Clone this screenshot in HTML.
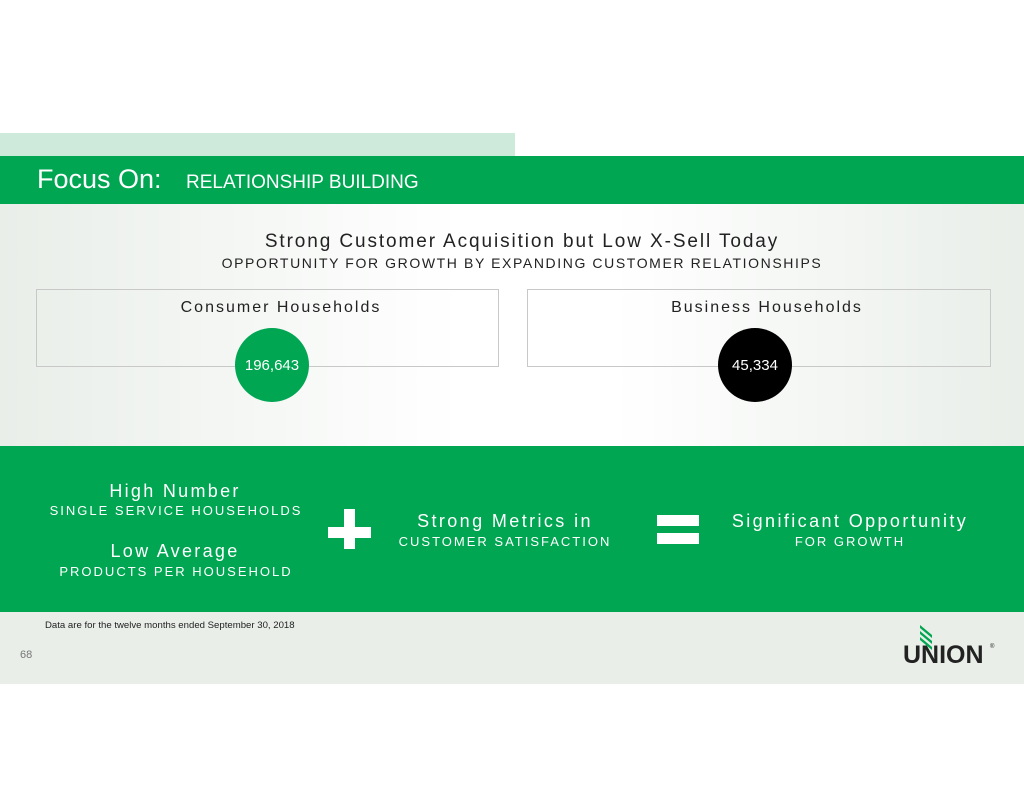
<!DOCTYPE html>
<html><head><style>
body{margin:0;width:1024px;height:791px;background:#fff;position:relative;overflow:hidden;font-family:"Liberation Sans",sans-serif}
div{position:absolute}
.t{white-space:nowrap;text-align:center}
</style></head><body>
<div style="left:0;top:133px;width:515px;height:23px;background:#cdeadb"></div>
<div style="left:0;top:156px;width:1024px;height:48px;background:#00a651"></div>
<div style="left:37px;top:164px;color:#fff;font-size:27px">Focus On:</div>
<div style="left:186px;top:172px;color:#fff;font-size:19px">RELATIONSHIP BUILDING</div>
<div style="left:0;top:204px;width:1024px;height:242px;background:linear-gradient(90deg,#e9eee9 0%,#ffffff 45%,#ffffff 60%,#e9eee9 100%)"></div>
<div class="t" style="left:0;width:1044px;top:231px;font-size:19px;letter-spacing:1.9px;color:#222">Strong Customer Acquisition but Low X-Sell Today</div>
<div class="t" style="left:0;width:1044px;top:255px;font-size:14px;letter-spacing:1.6px;color:#222">OPPORTUNITY FOR GROWTH BY EXPANDING CUSTOMER RELATIONSHIPS</div>
<div style="left:36px;top:289px;width:461px;height:76px;border:1px solid #c8c8c8"></div>
<div style="left:527px;top:289px;width:462px;height:76px;border:1px solid #c8c8c8"></div>
<div class="t" style="left:50px;width:462px;top:299px;font-size:16px;letter-spacing:2px;color:#222">Consumer Households</div>
<div class="t" style="left:536px;width:462px;top:299px;font-size:16px;letter-spacing:2px;color:#222">Business Households</div>
<div style="left:235px;top:328px;width:74px;height:74px;border-radius:50%;background:#00a651"></div>
<div class="t" style="left:235px;width:74px;top:357px;font-size:15px;color:#fff">196,643</div>
<div style="left:718px;top:328px;width:74px;height:74px;border-radius:50%;background:#000"></div>
<div class="t" style="left:718px;width:74px;top:357px;font-size:15px;color:#fff">45,334</div>
<div style="left:0;top:446px;width:1024px;height:166px;background:#00a651"></div>
<div class="t" style="left:75px;width:200px;top:481px;font-size:18px;letter-spacing:2.3px;color:#fff">High Number</div>
<div class="t" style="left:45px;width:262px;top:503px;font-size:13px;letter-spacing:2px;color:#fff">SINGLE SERVICE HOUSEHOLDS</div>
<div class="t" style="left:75px;width:200px;top:541px;font-size:18px;letter-spacing:2.3px;color:#fff">Low Average</div>
<div class="t" style="left:45px;width:262px;top:564px;font-size:13px;letter-spacing:2px;color:#fff">PRODUCTS PER HOUSEHOLD</div>
<div style="left:328px;top:527px;width:43px;height:11px;background:#fff"></div>
<div style="left:344px;top:509px;width:11px;height:40px;background:#fff"></div>
<div class="t" style="left:405px;width:200px;top:511px;font-size:18px;letter-spacing:2.4px;color:#fff">Strong Metrics in</div>
<div class="t" style="left:385px;width:240px;top:534px;font-size:13px;letter-spacing:2px;color:#fff">CUSTOMER SATISFACTION</div>
<div style="left:657px;top:515px;width:42px;height:11px;background:#fff"></div>
<div style="left:657px;top:533px;width:42px;height:11px;background:#fff"></div>
<div class="t" style="left:720px;width:260px;top:511px;font-size:18px;letter-spacing:2.4px;color:#fff">Significant Opportunity</div>
<div class="t" style="left:720px;width:260px;top:534px;font-size:13px;letter-spacing:2px;color:#fff">FOR GROWTH</div>
<div style="left:0;top:612px;width:1024px;height:72px;background:#e9eee9"></div>
<div style="left:45px;top:620px;font-size:9.6px;color:#222">Data are for the twelve months ended September 30, 2018</div>
<div style="left:20px;top:649px;font-size:11px;color:#777">68</div>
<div style="left:903px;top:641px;font-size:25px;font-weight:bold;color:#222;letter-spacing:0px">UNION</div>
<div style="left:920px;top:630px;width:12px;height:3px;background:#00a651;transform:skewY(40deg)"></div>
<div style="left:920px;top:636px;width:12px;height:3px;background:#00a651;transform:skewY(40deg)"></div>
<div style="left:920px;top:642px;width:12px;height:3px;background:#00a651;transform:skewY(40deg)"></div>
<div style="left:990px;top:644px;font-size:6px;color:#222">®</div>
</body></html>
